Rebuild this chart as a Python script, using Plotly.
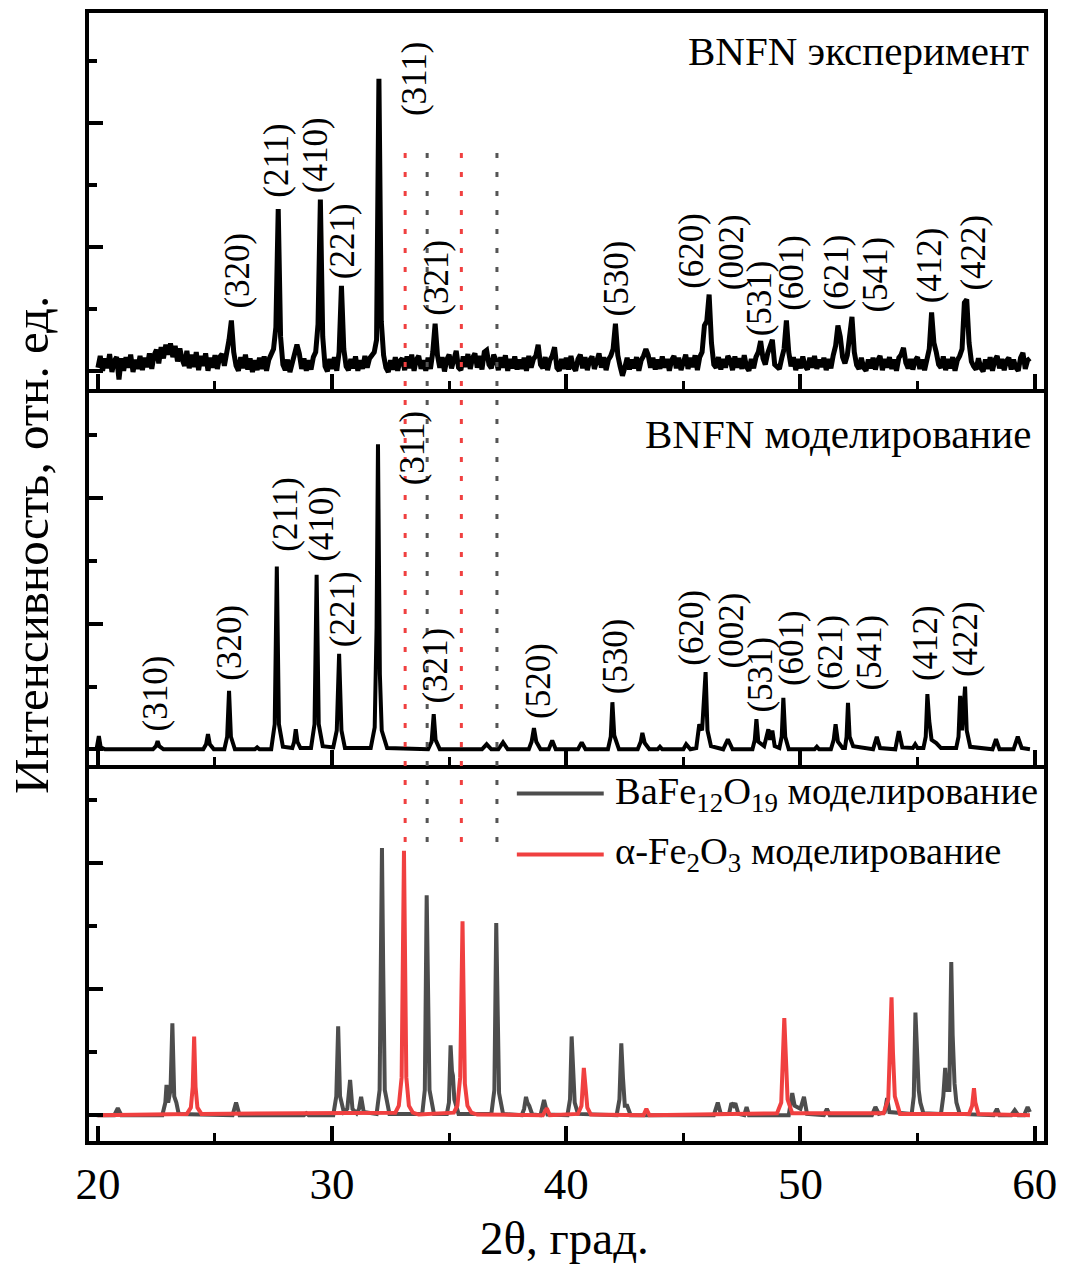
import plotly.graph_objects as go
from plotly.subplots import make_subplots

# ---------------------------------------------------------------------------
# Experimental BNFN pattern: relative intensity sampled every 0.1 deg from 20.0
# ---------------------------------------------------------------------------
exp_start = 20.0
exp_step = 0.1
exp_intensity = [
    0.05, 0.24, 0.00, 0.20, 0.04, 0.27, -0.02, 0.16, 0.22, -0.14,  # 20
    0.20, 0.00, 0.22, 0.05, 0.26, -0.02, 0.18, 0.03, 0.24, 0.01,   # 21
    0.21, 0.06, 0.28, 0.03, 0.25, 0.34, 0.12, 0.38, 0.20, 0.42,    # 22
    0.26, 0.44, 0.22, 0.40, 0.15, 0.36, 0.18, 0.08, 0.32, 0.04,    # 23
    0.26, 0.06, 0.30, 0.01, 0.24, 0.08, 0.28, 0.00, 0.21, 0.05,    # 24
    0.25, 0.03, 0.22, 0.27, 0.08, 0.25, 0.50, 0.81, 0.30, 0.08,    # 25
    0.00, 0.22, 0.04, 0.26, 0.02, 0.20, -0.02, 0.17, 0.01, 0.21,   # 26
    0.03, 0.23, 0.00, 0.18, 0.26, 0.35, 0.70, 2.61, 0.55, 0.10,    # 27
    0.01, 0.18, -0.02, 0.15, 0.25, 0.42, 0.28, 0.03, 0.20, 0.00,   # 28
    0.17, 0.02, 0.22, 0.30, 0.75, 2.76, 0.55, 0.07, -0.01, 0.19,   # 29
    0.03, 0.22, 0.00, 0.30, 1.37, 0.35, 0.07, 0.01, 0.19, 0.04,    # 30
    0.23, 0.00, 0.17, 0.03, 0.24, 0.05, 0.20, 0.26, 0.30, 0.50,    # 31
    4.71, 0.80, 0.25, 0.05, -0.02, 0.17, 0.02, 0.22, 0.00, 0.16,   # 32
    0.20, 0.01, 0.23, 0.04, 0.26, 0.00, 0.18, 0.24, 0.03, 0.17,    # 33
    0.00, 0.21, 0.03, 0.30, 0.76, 0.25, 0.05, 0.22, -0.01, 0.18,   # 34
    0.26, 0.04, 0.19, 0.32, 0.05, 0.01, 0.23, 0.06, 0.27, 0.03,    # 35
    0.21, 0.28, 0.05, 0.24, 0.02, 0.30, 0.33, 0.10, 0.04, 0.26,    # 36
    0.17, 0.01, 0.22, 0.05, 0.25, 0.00, 0.19, 0.04, 0.23, 0.02,    # 37
    0.18, 0.03, 0.21, 0.00, 0.24, 0.05, 0.19, 0.24, 0.42, 0.10,    # 38
    0.04, 0.22, 0.01, 0.17, 0.24, 0.38, 0.05, 0.00, 0.19, 0.03,    # 39
    0.21, 0.02, 0.24, 0.06, 0.00, 0.19, 0.26, 0.04, 0.22, 0.01,    # 40
    0.17, 0.23, 0.03, 0.19, 0.28, 0.05, 0.22, 0.01, 0.18, 0.24,    # 41
    0.35, 0.76, 0.25, 0.07, -0.08, 0.05, 0.21, 0.02, 0.18, 0.04,   # 42
    0.22, 0.00, 0.17, 0.24, 0.35, 0.25, 0.05, 0.21, 0.02, 0.18,    # 43
    0.03, 0.23, 0.05, 0.19, 0.00, 0.17, 0.24, 0.04, 0.21, 0.01,    # 44
    0.18, 0.26, 0.03, 0.21, 0.06, 0.25, 0.01, 0.22, 0.30, 0.73,    # 45
    0.80, 1.23, 0.45, 0.10, 0.05, 0.22, 0.02, 0.19, 0.05, 0.24,    # 46
    0.17, 0.01, 0.23, 0.05, 0.20, 0.03, 0.25, 0.06, 0.00, 0.19,    # 47
    0.04, 0.22, 0.30, 0.48, 0.20, 0.10, 0.28, 0.42, 0.50, 0.10,    # 48
    0.05, 0.03, 0.20, 0.35, 0.81, 0.30, 0.07, 0.22, 0.01, 0.19,    # 49
    0.04, 0.23, 0.07, 0.02, 0.21, 0.05, 0.24, 0.03, 0.18, 0.06,    # 50
    0.21, 0.01, 0.19, 0.04, 0.25, 0.40, 0.73, 0.55, 0.22, 0.12,    # 51
    0.25, 0.55, 0.87, 0.30, 0.09, 0.03, 0.21, 0.05, 0.00, 0.18,    # 52
    0.04, 0.21, 0.02, 0.17, 0.24, 0.01, 0.19, 0.05, 0.22, 0.03,    # 53
    0.18, 0.00, 0.21, 0.26, 0.37, 0.13, 0.04, 0.19, 0.02, 0.17,    # 54
    0.22, 0.03, 0.18, 0.01, 0.24, 0.35, 0.94, 0.45, 0.30, 0.10,    # 55
    0.05, 0.23, 0.01, 0.19, 0.04, 0.22, 0.00, 0.17, 0.24, 0.35,    # 56
    1.10, 1.15, 0.45, 0.15, 0.07, 0.02, 0.20, 0.05, -0.01, 0.18,   # 57
    0.03, 0.22, 0.00, 0.17, 0.24, 0.04, 0.19, 0.01, 0.16, 0.21,    # 58
    0.02, 0.18, 0.05, 0.00, 0.21, 0.29, 0.03, 0.17, 0.20,          # 59
]

# ---------------------------------------------------------------------------
# Simulated BNFN pattern: (2theta, intensity) vertices
# ---------------------------------------------------------------------------
bnfn_sim = [
    (19.95, 0.02), (20.04, 0.21), (20.12, 0.03), (20.3, 0.0),
    (22.35, 0.0), (22.48, 0.05), (22.55, 0.13), (22.62, 0.05), (22.8, 0.0),
    (24.5, 0.0), (24.62, 0.08), (24.7, 0.24), (24.78, 0.08), (24.95, 0.0),
    (25.4, 0.0), (25.52, 0.2), (25.6, 0.93), (25.68, 0.2), (25.85, 0.0),
    (26.7, 0.0), (26.8, 0.03), (26.9, 0.0),
    (27.4, 0.0), (27.55, 0.4), (27.64, 2.91), (27.73, 0.4), (27.9, 0.04),
    (28.3, 0.02), (28.38, 0.12), (28.45, 0.32), (28.52, 0.12), (28.65, 0.02),
    (29.1, 0.02), (29.25, 0.4), (29.34, 2.78), (29.43, 0.4), (29.6, 0.05),
    (30.05, 0.03), (30.2, 0.3), (30.3, 1.52), (30.4, 0.3), (30.55, 0.02),
    (31.65, 0.02), (31.82, 0.35), (31.9, 1.94), (31.96, 4.86), (32.04, 1.2),
    (32.12, 0.3), (32.35, 0.02),
    (34.1, 0.0), (34.25, 0.12), (34.34, 0.56), (34.42, 0.15), (34.6, 0.0),
    (36.4, 0.0), (36.6, 0.08), (36.8, 0.0), (37.1, 0.0), (37.3, 0.11), (37.5, 0.0),
    (38.4, 0.0), (38.52, 0.12), (38.62, 0.34), (38.72, 0.12), (38.9, 0.0),
    (39.25, 0.0), (39.4, 0.14), (39.55, 0.0),
    (40.5, 0.0), (40.66, 0.11), (40.82, 0.0),
    (41.78, 0.0), (41.9, 0.2), (41.97, 0.75), (42.05, 0.22), (42.25, 0.0),
    (43.05, 0.0), (43.18, 0.12), (43.25, 0.26), (43.35, 0.1), (43.55, 0.0),
    (43.9, 0.0), (44.0, 0.04), (44.1, 0.0),
    (45.0, 0.0), (45.12, 0.08), (45.3, 0.0),
    (45.55, 0.02), (45.68, 0.4), (45.8, 0.3), (45.95, 1.23), (46.03, 0.3),
    (46.18, 0.05),
    (46.7, 0.0), (46.9, 0.16), (47.1, 0.0),
    (47.95, 0.0), (48.05, 0.15), (48.12, 0.48), (48.2, 0.12), (48.45, 0.05),
    (48.63, 0.32), (48.7, 0.15), (48.8, 0.3), (48.9, 0.05),
    (49.1, 0.02), (49.2, 0.2), (49.27, 0.82), (49.35, 0.2), (49.5, 0.0),
    (50.6, 0.0), (50.7, 0.04), (50.8, 0.0),
    (51.3, 0.0), (51.42, 0.15), (51.5, 0.4), (51.6, 0.12), (51.8, 0.02),
    (51.9, 0.02), (51.97, 0.2), (52.03, 0.74), (52.1, 0.2), (52.25, 0.05),
    (53.1, 0.0), (53.26, 0.2), (53.4, 0.02),
    (54.05, 0.0), (54.2, 0.29), (54.35, 0.03), (54.8, 0.02), (54.9, 0.08), (55.0, 0.02),
    (55.25, 0.02), (55.35, 0.2), (55.42, 0.88), (55.5, 0.45), (55.6, 0.15),
    (55.8, 0.1), (56.0, 0.02),
    (56.65, 0.02), (56.75, 0.2), (56.82, 0.85), (56.9, 0.3), (57.03, 1.0),
    (57.1, 0.3), (57.25, 0.04),
    (58.2, 0.0), (58.35, 0.16), (58.5, 0.0),
    (59.1, 0.0), (59.28, 0.2), (59.45, 0.02), (59.8, 0.0),
]

# ---------------------------------------------------------------------------
# Simulated reference phases
# ---------------------------------------------------------------------------
bafe_sim = [
    (19.95, 0.0), (20.7, 0.0), (20.85, 0.11), (21.0, 0.0),
    (22.75, 0.0), (22.88, 0.2), (22.93, 0.48), (23.0, 0.2), (23.1, 0.4),
    (23.18, 1.46), (23.26, 0.3), (23.35, 0.2), (23.45, 0.02),
    (25.75, 0.0), (25.9, 0.2), (26.05, 0.0),
    (28.8, 0.0), (28.9, 0.03), (29.0, 0.0),
    (30.05, 0.0), (30.18, 0.3), (30.26, 1.41), (30.34, 0.3), (30.5, 0.05),
    (30.65, 0.1), (30.77, 0.56), (30.87, 0.1), (31.05, 0.03), (31.15, 0.1),
    (31.24, 0.29), (31.35, 0.05),
    (31.9, 0.02), (32.03, 0.4), (32.13, 4.24), (32.18, 2.41), (32.25, 0.4), (32.45, 0.02),
    (33.85, 0.02), (33.96, 0.4), (34.04, 3.49), (34.1, 1.94), (34.16, 0.4), (34.35, 0.02),
    (34.9, 0.02), (34.99, 0.2), (35.06, 1.11), (35.12, 0.7), (35.16, 0.63),
    (35.22, 0.25), (35.4, 0.02),
    (36.8, 0.02), (36.93, 0.4), (37.01, 3.05), (37.07, 1.67), (37.13, 0.35), (37.3, 0.02),
    (38.1, 0.0), (38.2, 0.1), (38.28, 0.29), (38.34, 0.2), (38.42, 0.15), (38.55, 0.01),
    (38.9, 0.0), (39.05, 0.24), (39.2, 0.01),
    (40.05, 0.0), (40.16, 0.25), (40.23, 1.25), (40.3, 0.68), (40.36, 0.2), (40.5, 0.02),
    (42.15, 0.0), (42.27, 0.25), (42.35, 1.14), (42.42, 0.6), (42.5, 0.15),
    (42.6, 0.15), (42.75, 0.0),
    (46.3, 0.0), (46.47, 0.2), (46.6, 0.02), (46.95, 0.02), (47.05, 0.19),
    (47.15, 0.15), (47.22, 0.19), (47.35, 0.02), (47.6, 0.0), (47.7, 0.13), (47.8, 0.0),
    (49.5, 0.0), (49.65, 0.35), (49.75, 0.15), (50.0, 0.1), (50.15, 0.29), (50.28, 0.02),
    (51.0, 0.0), (51.13, 0.1), (51.25, 0.0),
    (53.05, 0.0), (53.2, 0.13), (53.35, 0.02), (53.6, 0.05), (53.7, 0.27), (53.8, 0.05),
    (54.75, 0.02), (54.84, 0.3), (54.91, 1.63), (54.97, 0.87), (55.05, 0.4),
    (55.12, 0.2), (55.25, 0.03),
    (56.0, 0.02), (56.1, 0.3), (56.18, 0.75), (56.25, 0.4), (56.36, 0.4),
    (56.44, 2.43), (56.5, 1.27), (56.58, 0.5), (56.66, 0.2), (56.8, 0.02),
    (58.25, 0.0), (58.39, 0.1), (58.5, 0.0), (59.0, 0.0), (59.15, 0.08), (59.3, 0.0),
    (59.55, 0.0), (59.7, 0.13), (59.8, 0.05),
]

fe2o3_sim = [
    (20.0, 0.0), (23.8, 0.02), (23.97, 0.12), (24.05, 0.45), (24.11, 1.25),
    (24.17, 0.45), (24.25, 0.12), (24.42, 0.02),
    (32.7, 0.04), (32.85, 0.15), (32.97, 0.6), (33.07, 4.2), (33.12, 2.35),
    (33.17, 0.6), (33.28, 0.15), (33.45, 0.04), (33.7, 0.01),
    (35.2, 0.04), (35.35, 0.15), (35.47, 0.6), (35.57, 3.08), (35.62, 1.71),
    (35.67, 0.5), (35.78, 0.15), (35.95, 0.04), (36.2, 0.01),
    (39.0, 0.0), (39.17, 0.11), (39.3, 0.0),
    (40.5, 0.02), (40.65, 0.15), (40.75, 0.75), (40.82, 0.4), (40.9, 0.12), (41.05, 0.01),
    (43.3, 0.0), (43.42, 0.1), (43.55, 0.0),
    (49.0, 0.03), (49.18, 0.2), (49.31, 1.54), (49.37, 0.83), (49.45, 0.25),
    (49.65, 0.03),
    (53.55, 0.03), (53.75, 0.25), (53.89, 1.87), (53.95, 1.0), (54.03, 0.3),
    (54.25, 0.02),
    (57.2, 0.02), (57.33, 0.15), (57.41, 0.43), (57.47, 0.2), (57.6, 0.02),
    (59.8, 0.0),
]

# Miller indices and where their labels sit (2theta, intensity of label base)
exp_hkl = ["(320)", "(211)", "(410)", "(221)", "(311)", "(321)", "(530)", "(620)",
           "(002)", "(531)", "(601)", "(621)", "(541)", "(412)", "(422)"]
exp_hkl_x = [25.98, 27.59, 29.29, 30.48, 33.49, 34.42, 42.14, 45.37,
             47.06, 48.29, 49.61, 51.56, 53.21, 55.50, 57.41]
exp_hkl_y = [0.97, 2.76, 2.84, 1.45, 4.08, 0.85, 0.85, 1.29,
             1.26, 0.53, 0.94, 0.94, 0.90, 1.06, 1.26]

sim_hkl = ["(310)", "(320)", "(211)", "(410)", "(221)", "(311)", "(321)", "(520)",
           "(530)", "(620)", "(002)", "(531)", "(601)", "(621)", "(541)", "(412)", "(422)"]
sim_hkl_x = [22.50, 25.64, 28.02, 29.54, 30.48, 33.45, 34.42, 38.79,
             42.14, 45.37, 47.06, 48.29, 49.61, 51.30, 52.96, 55.33, 57.03]
sim_hkl_y = [0.26, 1.06, 3.12, 2.96, 1.60, 4.18, 0.69, 0.45,
             0.85, 1.30, 1.25, 0.56, 0.98, 0.90, 0.90, 1.06, 1.12]

# Strongest reflections of the two reference phases, marked across the panels
marker_theta = [33.12, 34.06, 35.52, 37.04]
marker_phase = ["fe2o3", "bafe", "fe2o3", "bafe"]

# ---------------------------------------------------------------------------
FONT = "Liberation Serif, Times New Roman, serif"
RED = "#f04040"
GREY = "#4d4d4d"

fig = make_subplots(rows=3, cols=1, vertical_spacing=0)

exp_x = [round(exp_start + i * exp_step, 2) for i in range(len(exp_intensity))]
fig.add_trace(go.Scatter(x=exp_x, y=exp_intensity, mode="lines",
                         line=dict(color="black", width=5), showlegend=False),
              row=1, col=1)
fig.add_trace(go.Scatter(x=[p[0] for p in bnfn_sim], y=[p[1] for p in bnfn_sim],
                         mode="lines", line=dict(color="black", width=4),
                         showlegend=False), row=2, col=1)
fig.add_trace(go.Scatter(x=[p[0] for p in bafe_sim], y=[p[1] for p in bafe_sim],
                         mode="lines", line=dict(color=GREY, width=4),
                         showlegend=False), row=3, col=1)
fig.add_trace(go.Scatter(x=[p[0] for p in fe2o3_sim], y=[p[1] for p in fe2o3_sim],
                         mode="lines", line=dict(color=RED, width=4),
                         showlegend=False), row=3, col=1)

XRANGE = [19.62, 60.40]
yranges = [[-0.294, 5.77], [-0.25, 5.74], [-0.41, 5.56]]

for i in range(3):
    r = i + 1
    fig.update_xaxes(
        row=r, col=1, range=XRANGE, showgrid=False, zeroline=False,
        showline=True, linewidth=4, linecolor="black", mirror=(i == 0),
        ticks="inside", ticklen=15, tickwidth=3.5, tickcolor="black",
        tick0=0, dtick=10, showticklabels=(i == 2),
        tickfont=dict(family=FONT, size=45, color="black"),
        minor=dict(ticks="inside", ticklen=8, tickwidth=3, tickcolor="black",
                   dtick=5, tick0=0, showgrid=False),
    )
    fig.update_yaxes(
        row=r, col=1, range=yranges[i], showgrid=False, zeroline=False,
        showline=True, linewidth=4, linecolor="black", mirror=True,
        ticks="inside", ticklen=14, tickwidth=4, tickcolor="black",
        tick0=0, dtick=2, showticklabels=False,
        minor=dict(ticks="inside", ticklen=8, tickwidth=4, tickcolor="black",
                   dtick=1, tick0=0, showgrid=False),
    )

annotations = []
for txt, x, y in zip(exp_hkl, exp_hkl_x, exp_hkl_y):
    annotations.append(dict(text=txt, x=x, y=y, xref="x", yref="y", textangle=-90,
                            xanchor="center", yanchor="bottom", showarrow=False,
                            font=dict(family=FONT, size=35, color="black")))
for txt, x, y in zip(sim_hkl, sim_hkl_x, sim_hkl_y):
    annotations.append(dict(text=txt, x=x, y=y, xref="x2", yref="y2", textangle=-90,
                            xanchor="center", yanchor="bottom", showarrow=False,
                            font=dict(family=FONT, size=35, color="black")))

# panel captions
annotations.append(dict(text="BNFN эксперимент", x=0.9864, y=0.966, xref="paper",
                        yref="paper", xanchor="right", yanchor="middle", showarrow=False,
                        font=dict(family=FONT, size=41, color="black")))
annotations.append(dict(text="BNFN моделирование", x=0.9885, y=0.627, xref="paper",
                        yref="paper", xanchor="right", yanchor="middle", showarrow=False,
                        font=dict(family=FONT, size=41, color="black")))

# legend for the bottom panel
legend_items = [("BaFe<sub>12</sub>O<sub>19</sub> моделирование", GREY, 0.308),
                ("α-Fe<sub>2</sub>O<sub>3</sub> моделирование", RED, 0.254)]
shapes = []
for label, color, ly in legend_items:
    shapes.append(dict(type="line", xref="paper", yref="paper", x0=0.448, x1=0.539,
                       y0=ly, y1=ly, line=dict(color=color, width=4)))
    annotations.append(dict(text=label, x=0.549, y=ly, xref="paper", yref="paper",
                            xanchor="left", yanchor="middle", showarrow=False,
                            font=dict(family=FONT, size=38.5, color="black")))

# dotted markers of the reference-phase reflections
for xv, ph in zip(marker_theta, marker_phase):
    shapes.append(dict(type="line", xref="x", yref="paper", x0=xv, x1=xv,
                       y0=0.265, y1=0.880,
                       line=dict(color=RED if ph == "fe2o3" else "#555555",
                                 width=3, dash="5px,14px")))

# axis titles
annotations.append(dict(text="2θ, град.", x=0.4975, y=-0.086, xref="paper", yref="paper",
                        xanchor="center", yanchor="middle", showarrow=False,
                        font=dict(family=FONT, size=47, color="black")))
annotations.append(dict(text="Интенсивность, отн. ед.", x=-0.06, y=0.528, xref="paper",
                        yref="paper", xanchor="center", yanchor="middle", textangle=-90,
                        showarrow=False, font=dict(family=FONT, size=49, color="black")))

fig.update_layout(
    width=1066, height=1265,
    margin=dict(l=89, r=18, t=9, b=124),
    paper_bgcolor="white", plot_bgcolor="white",
    annotations=annotations, shapes=shapes,
    showlegend=False,
)

fig.write_html("out.html")
